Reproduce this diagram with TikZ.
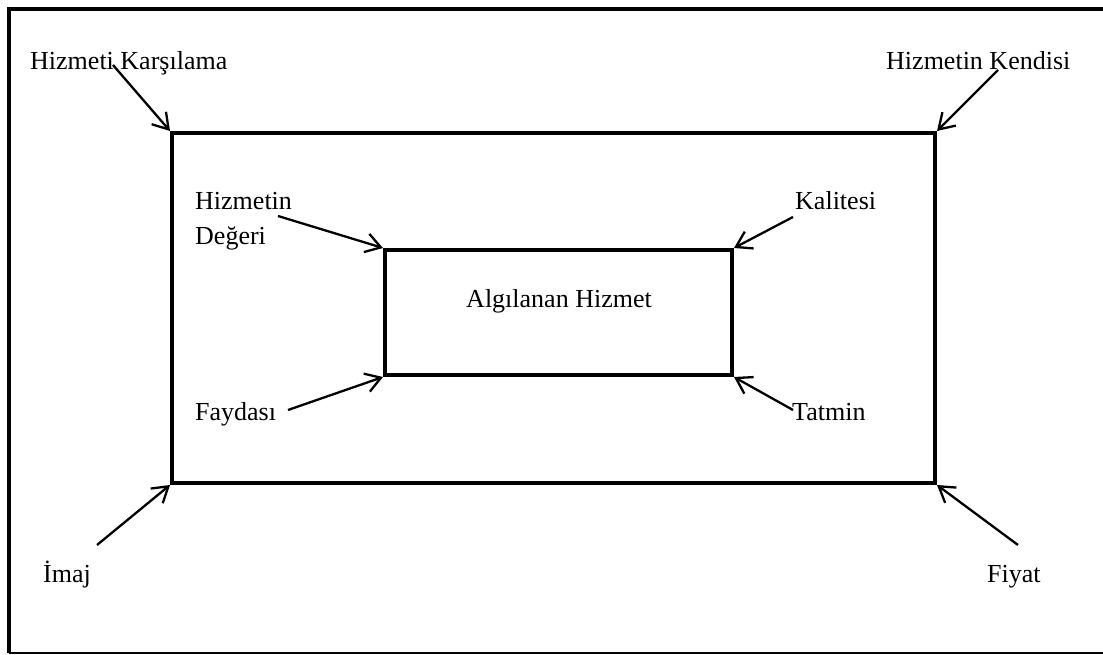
\documentclass[tikz,border=0pt]{standalone}
\usepackage{fontspec}
\setmainfont{Liberation Serif}
\usetikzlibrary{arrows.meta}
\begin{document}
\begin{tikzpicture}[x=1pt,y=-1pt,
  lbl/.style={anchor=base west,inner sep=0pt,font=\fontsize{26}{30}\selectfont},
  boxr/.style={draw,line width=4pt,inner sep=0pt},
  arr/.style={line width=2.3pt,-{Straight Barb[length=15pt,width=19pt,line width=2.3pt]}}]
\useasboundingbox (0,0) rectangle (1103,655);
% frame
\draw[line width=4pt] (9,653) -- (9,9) -- (1103,9);
\draw[line width=1.5pt] (9,653) -- (1103,653);
% rectangles
\node[boxr,minimum width=763pt,minimum height=350pt] (outer) at (553.5,308) {};
\node[boxr,minimum width=347pt,minimum height=125pt] (inner) at (558.5,312.5) {};
% labels
\node[lbl] (hk) at (30,70) {Hizmeti Karşılama};
\node[lbl] (kend) at (886,70) {Hizmetin Kendisi};
\node[lbl] (imaj) at (43,582) {İmaj};
\node[lbl] (fiyat) at (987,582) {Fiyat};
\node[lbl] (deg1) at (195,210) {Hizmetin};
\node[lbl] (deg2) at (195,244) {Değeri};
\node[lbl] (fay) at (195,420) {Faydası};
\node[lbl] (kal) at (795,210) {Kalitesi};
\node[lbl] (tat) at (792,420) {Tatmin};
\node[lbl,anchor=base] (alg) at (559,307) {Algılanan Hizmet};
% arrow starts
\coordinate (shk) at (113,65);
\coordinate (skend) at (998,70);
\coordinate (simaj) at (97,545);
\coordinate (sfiyat) at (1018,545);
\coordinate (sdeg) at (278,216);
\coordinate (sfay) at (288,410);
\coordinate (skal) at (793,217);
\coordinate (stat) at (793,410);
% arrows
\draw[arr] (shk) -- (outer.north west);
\draw[arr] (skend) -- (outer.north east);
\draw[arr] (simaj) -- (outer.south west);
\draw[arr] (sfiyat) -- (outer.south east);
\draw[arr] (sdeg) -- (inner.north west);
\draw[arr] (sfay) -- (inner.south west);
\draw[arr] (skal) -- (inner.north east);
\draw[arr] (stat) -- (inner.south east);
\end{tikzpicture}
\end{document}
